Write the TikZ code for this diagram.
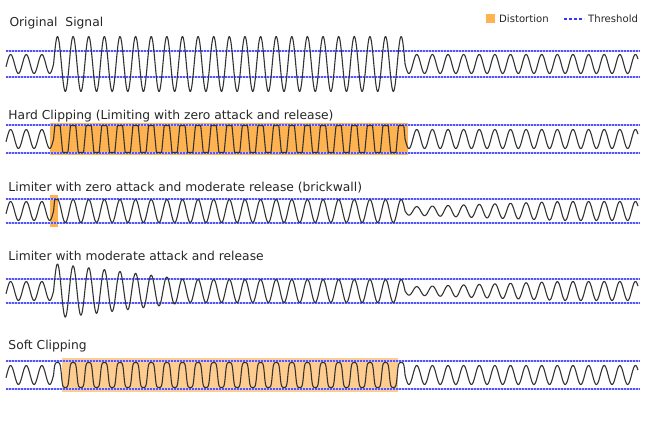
\documentclass[tikz,border=0pt]{standalone}
\usepackage{fontspec}
\setmainfont{DejaVu Sans}
\definecolor{wavegray}{HTML}{333333}
\definecolor{threshblue}{HTML}{3535FF}
\definecolor{hardorange}{HTML}{FFB350}
\definecolor{softorange}{HTML}{FFCC8F}
\begin{document}
\begin{tikzpicture}[x=1pt,y=-1pt,
    wave/.style={draw=wavegray,line width=1.1pt,line join=round},
    thresh/.style={draw=threshblue!85,line width=1.8pt,dash pattern=on 2pt off 1pt,
      preaction={draw=threshblue!30,solid,line width=1.8pt}},
    title/.style={anchor=base west,inner sep=0pt,text=black!85,
      font=\fontsize{12.3}{14}\selectfont},
    legend/.style={anchor=base west,inner sep=0pt,text=black!85,
      font=\fontsize{10.1}{12}\selectfont},
    declare function={sig(\t)=cos(23.047*(\t-57.5));}]
  \useasboundingbox (0,0) rectangle (650,422);
  % distortion areas
  \fill[hardorange] (50,123) rectangle (408,155);
  \fill[hardorange] (50,195) rectangle (58.3,226.7);
  \fill[softorange] (62,358) rectangle (398,392);
  % thresholds
  \foreach \c/\h in {64/13,139/14,211/12,291/12,375/14}
    \draw[thresh] (6,{\c-\h}) -- (640,{\c-\h}) (6,{\c+\h}) -- (640,{\c+\h});
  % titles
  \node[title] (origtitle) at (9.3,26.5) {Original~~Signal};
  \node[title] (hardtitle) at (8.3,119.5) {Hard Clipping (Limiting with zero attack and release)};
  \node[title] (walltitle) at (8.3,191.6) {Limiter with zero attack and moderate release (brickwall)};
  \node[title] (modtitle) at (8.3,260.6) {Limiter with moderate attack and release};
  \node[title] (softtitle) at (8.3,349) {Soft Clipping};
  % legend
  \fill[hardorange] (486,14) rectangle (495,23);
  \node[legend] (distlabel) at (499,22.7) {Distortion};
  \draw[threshblue,line width=1.8pt,dash pattern=on 3pt off 2pt] (564,19) -- (584,19);
  \node[legend] (threshlabel) at (588,22.7) {Threshold};
  % original
  \draw[wave] plot[domain=6:53.6,samples=60] (\x,{64-9.5*sig(\x)})
    -- plot[domain=53.6:405,samples=700] (\x,{64-27.5*sig(\x)})
    -- plot[domain=405:638,samples=470] (\x,{64-9.5*sig(\x)});
  % hard clipping
  \draw[wave] plot[domain=6:53.6,samples=60] (\x,{139-9.5*sig(\x)})
    -- plot[domain=53.6:405,samples=900] (\x,{139-max(-13.5,min(13.5,27.5*sig(\x)))})
    -- plot[domain=405:638,samples=470] (\x,{139-9.5*sig(\x)});
  % brickwall
  \draw[wave] plot[domain=6:53.6,samples=60] (\x,{211-9.5*sig(\x)})
    -- plot[domain=53.6:57.5,samples=20] (\x,{211-min(11.5,27.5*sig(\x))})
    -- plot[domain=57.5:405,samples=700] (\x,{211-11.5*sig(\x)})
    -- plot[domain=405:638,samples=470] (\x,{211-9.5*min(1,0.42+(\x-405)/270)*sig(\x)});
  % moderate attack and release
  \draw[wave] plot[domain=6:53.6,samples=60] (\x,{291-9.5*sig(\x)})
    -- plot[domain=53.6:405,samples=700] (\x,{291-max(11.5,27.5-0.12*(\x-53.6))*sig(\x)})
    -- plot[domain=405:638,samples=470] (\x,{291-9.5*min(1,0.42+(\x-405)/270)*sig(\x)});
  % soft clipping
  \draw[wave] plot[domain=6:53.6,samples=60] (\x,{375-9.5*sig(\x)})
    -- plot[domain=53.6:405,samples=700] (\x,{375-12.8*tanh(2.2*sig(\x))})
    -- plot[domain=405:638,samples=470] (\x,{375-9.5*sig(\x)});
\end{tikzpicture}
\end{document}
